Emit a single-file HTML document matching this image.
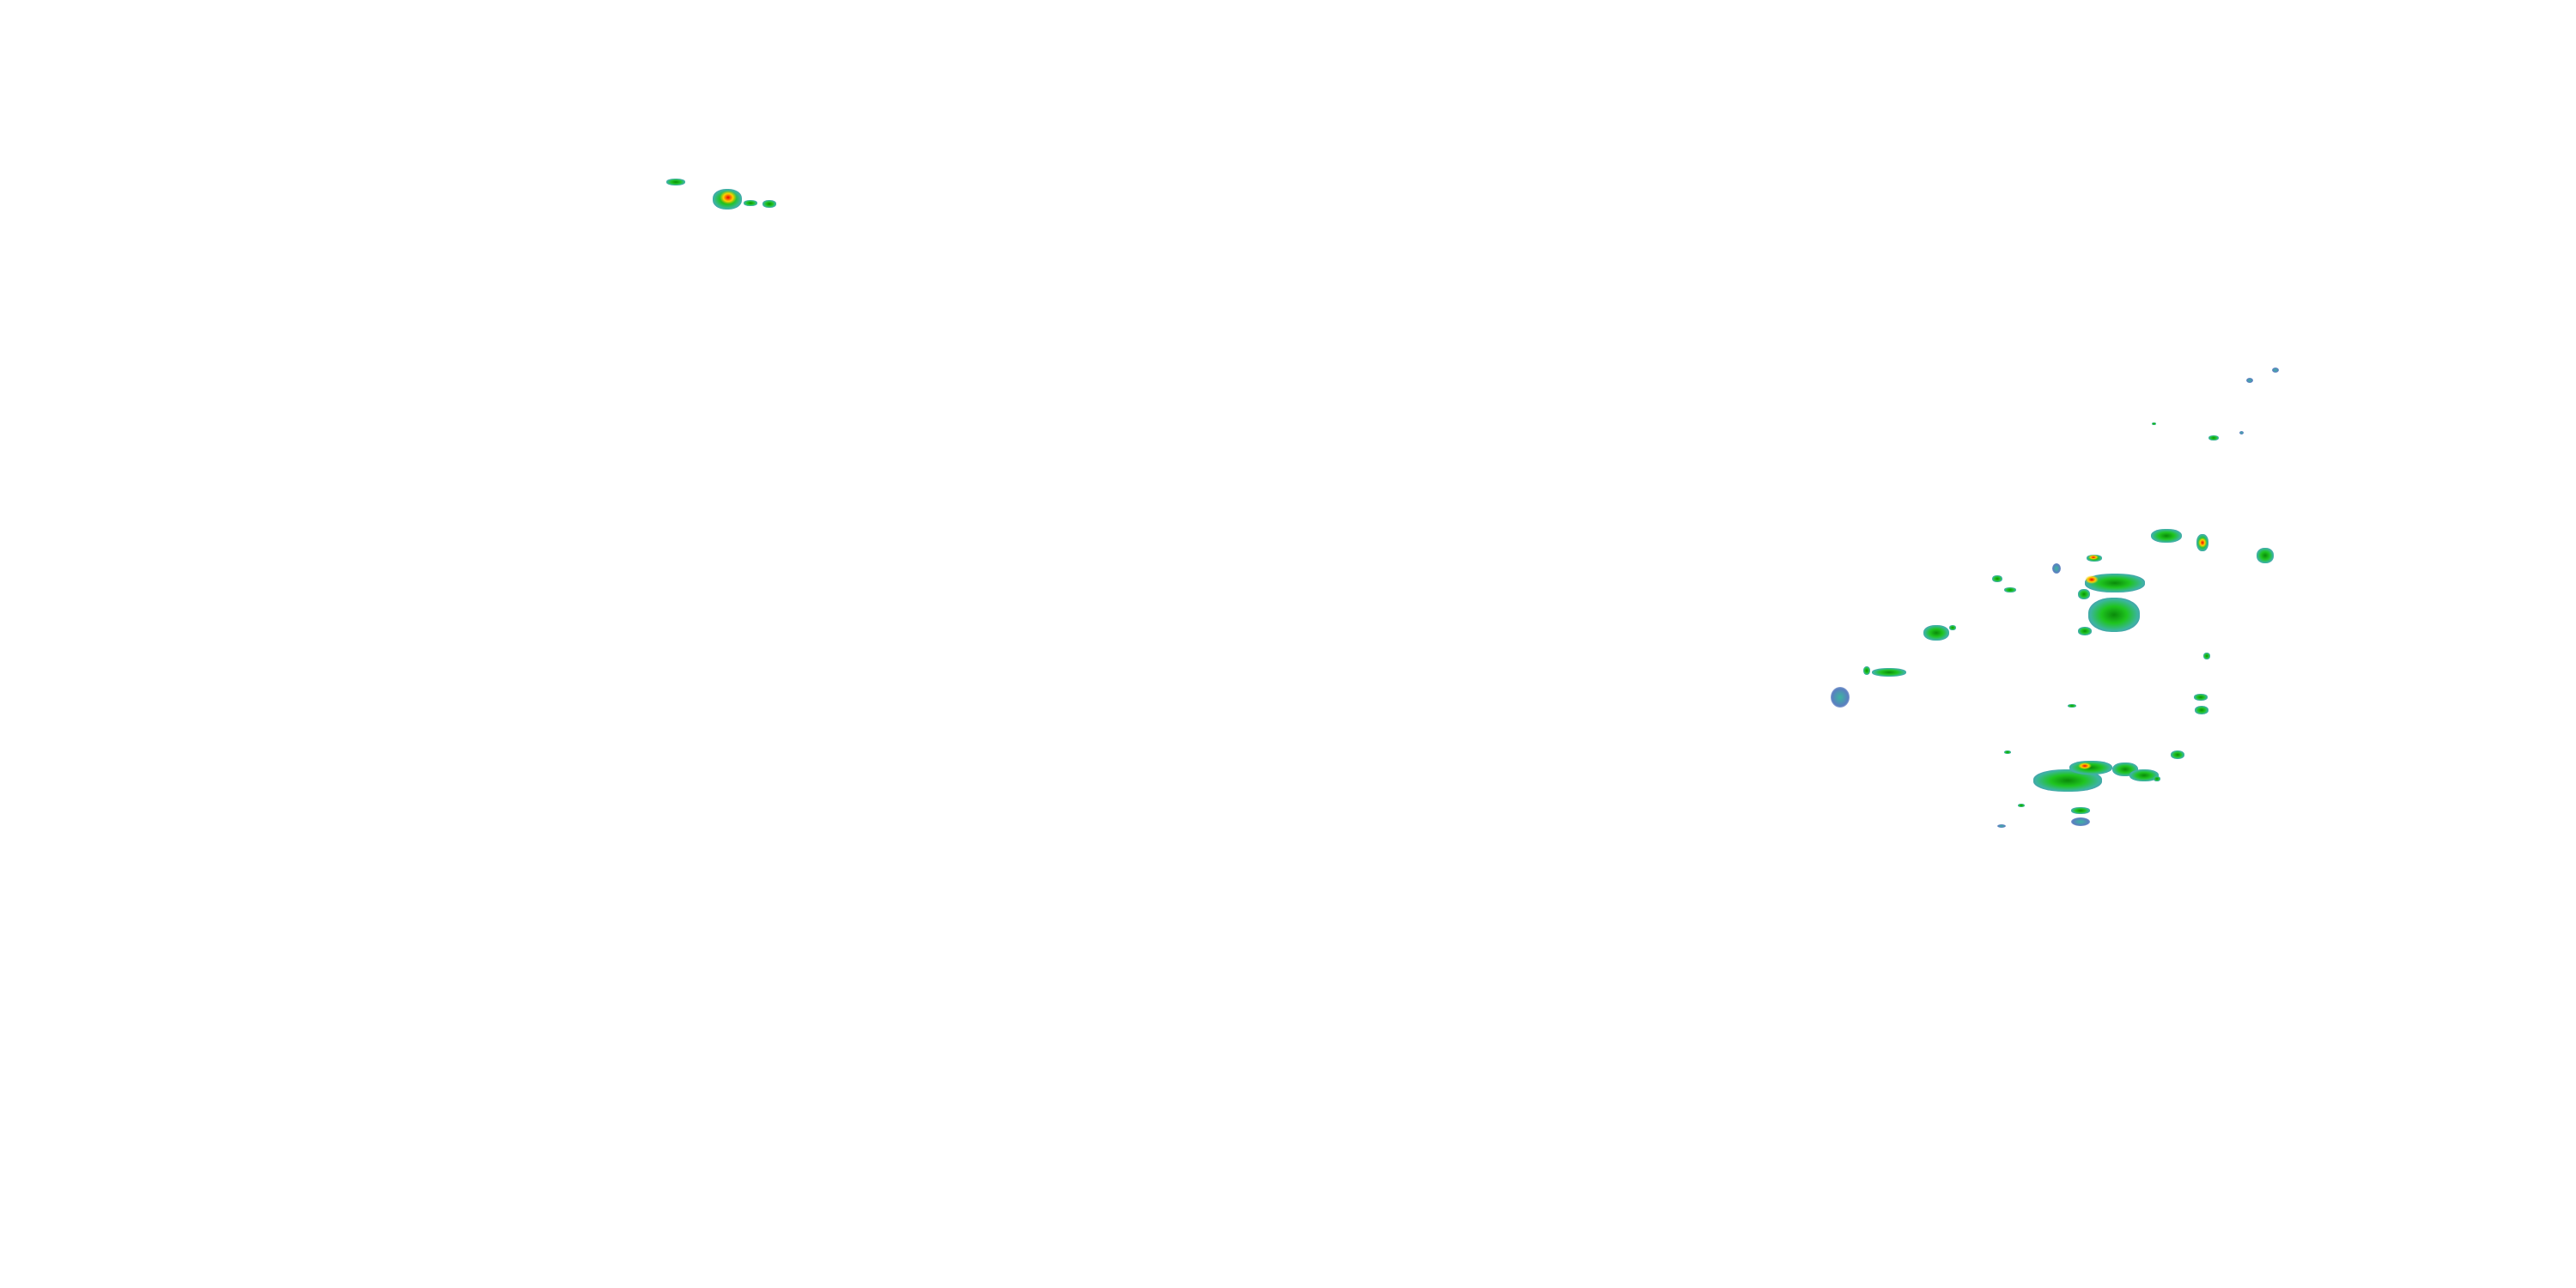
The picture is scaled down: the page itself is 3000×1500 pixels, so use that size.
<!DOCTYPE html>
<html><head><meta charset="utf-8"><style>
html,body{margin:0;padding:0;background:#fff;}
body{width:3000px;height:1500px;position:relative;overflow:hidden;}
.b{position:absolute;border-radius:45%;background:radial-gradient(ellipse at center,#0a8a0a 0%,#1fc41f 35%,#3cb5a0 65%,#5a7fc0 90%,transparent 100%);}
.y{position:absolute;border-radius:50%;background:radial-gradient(ellipse at center,#e00 0%,#ffd200 40%,transparent 70%);}
.s{position:absolute;border-radius:50%;background:radial-gradient(ellipse at center,#3cb5a0 0%,#5a7fc0 60%,transparent 100%);}
</style></head><body>
<div class="b" style="left:776px;top:208px;width:22px;height:8px"></div>
<div class="b" style="left:830px;top:220px;width:34px;height:24px"></div>
<div class="y" style="left:838px;top:222px;width:20px;height:16px"></div>
<div class="b" style="left:866px;top:233px;width:16px;height:7px"></div>
<div class="b" style="left:888px;top:233px;width:16px;height:9px"></div>

<div class="s" style="left:2132px;top:800px;width:22px;height:24px"></div>
<div class="b" style="left:2170px;top:776px;width:8px;height:10px"></div>
<div class="b" style="left:2180px;top:778px;width:40px;height:10px"></div>
<div class="b" style="left:2240px;top:728px;width:30px;height:18px"></div>
<div class="b" style="left:2270px;top:728px;width:8px;height:6px"></div>
<div class="b" style="left:2320px;top:670px;width:12px;height:8px"></div>
<div class="b" style="left:2334px;top:684px;width:14px;height:6px"></div>
<div class="s" style="left:2390px;top:656px;width:10px;height:12px"></div>
<div class="b" style="left:2430px;top:646px;width:18px;height:8px"></div>
<div class="y" style="left:2432px;top:646px;width:12px;height:6px"></div>
<div class="b" style="left:2428px;top:668px;width:70px;height:22px"></div>
<div class="y" style="left:2428px;top:670px;width:16px;height:10px"></div>
<div class="b" style="left:2420px;top:686px;width:14px;height:12px"></div>
<div class="b" style="left:2432px;top:696px;width:60px;height:40px"></div>
<div class="b" style="left:2420px;top:730px;width:16px;height:10px"></div>
<div class="b" style="left:2505px;top:616px;width:36px;height:16px"></div>
<div class="b" style="left:2558px;top:622px;width:14px;height:20px"></div>
<div class="y" style="left:2560px;top:626px;width:10px;height:12px"></div>
<div class="b" style="left:2628px;top:638px;width:20px;height:18px"></div>
<div class="b" style="left:2566px;top:760px;width:8px;height:8px"></div>
<div class="b" style="left:2555px;top:808px;width:16px;height:8px"></div>
<div class="b" style="left:2556px;top:822px;width:16px;height:10px"></div>
<div class="b" style="left:2528px;top:874px;width:16px;height:10px"></div>
<div class="b" style="left:2368px;top:896px;width:80px;height:26px"></div>
<div class="b" style="left:2410px;top:886px;width:50px;height:16px"></div>
<div class="y" style="left:2420px;top:888px;width:16px;height:8px"></div>
<div class="b" style="left:2460px;top:888px;width:30px;height:16px"></div>
<div class="b" style="left:2480px;top:896px;width:34px;height:14px"></div>
<div class="b" style="left:2508px;top:904px;width:8px;height:6px"></div>
<div class="b" style="left:2412px;top:940px;width:22px;height:8px"></div>
<div class="s" style="left:2412px;top:952px;width:22px;height:10px"></div>
<div class="b" style="left:2334px;top:874px;width:8px;height:4px"></div>
<div class="b" style="left:2350px;top:936px;width:8px;height:4px"></div>
<div class="s" style="left:2326px;top:960px;width:10px;height:4px"></div>
<div class="b" style="left:2408px;top:820px;width:10px;height:4px"></div>
<div class="b" style="left:2572px;top:507px;width:12px;height:6px"></div>
<div class="s" style="left:2616px;top:440px;width:8px;height:6px"></div>
<div class="s" style="left:2646px;top:428px;width:8px;height:6px"></div>
<div class="b" style="left:2506px;top:492px;width:5px;height:3px"></div>
<div class="s" style="left:2608px;top:502px;width:5px;height:4px"></div>
</body></html>
